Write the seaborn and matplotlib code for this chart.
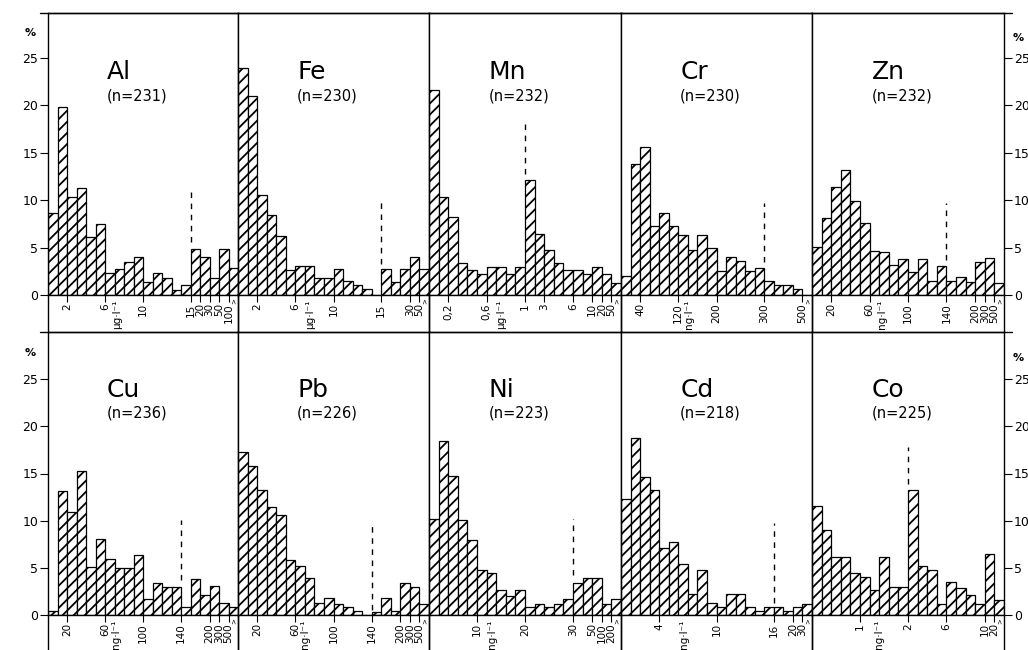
import numpy as np
import pandas as pd
import matplotlib
matplotlib.use("Agg")
import matplotlib.pyplot as plt
from matplotlib.lines import Line2D
import seaborn as sns

# ---------------- data ----------------
elements = ["Al", "Fe", "Mn", "Cr", "Zn", "Cu", "Pb", "Ni", "Cd", "Co"]
n_values = [231, 230, 232, 230, 232, 236, 226, 223, 218, 225]
units = ["μg·l⁻¹", "μg·l⁻¹", "μg·l⁻¹", "ng·l⁻¹", "ng·l⁻¹",
         "ng·l⁻¹", "ng·l⁻¹", "ng·l⁻¹", "ng·l⁻¹", "ng·l⁻¹"]

al = [8.6, 19.8, 10.3, 11.3, 6.1, 7.5, 2.3, 2.7, 3.5, 4.0, 1.4, 2.3, 1.8, 0.5, 1.1, 4.9, 4.0, 1.8, 4.9, 2.8]
fe = [23.9, 21.0, 10.5, 8.4, 6.2, 2.6, 3.1, 3.1, 1.8, 1.8, 2.7, 1.5, 1.1, 0.6, 0.0, 2.7, 1.4, 2.7, 4.0, 2.7]
mn = [21.6, 10.3, 8.2, 3.4, 2.6, 2.2, 3.0, 3.0, 2.2, 3.0, 12.1, 6.4, 4.7, 3.4, 2.6, 2.6, 2.2, 3.0, 2.2, 1.3]
cr = [2.0, 13.8, 15.6, 7.3, 8.6, 7.3, 6.3, 4.7, 6.3, 5.0, 2.5, 4.0, 3.6, 2.5, 2.8, 1.5, 1.1, 1.1, 0.6, 0.0]
zn = [5.1, 8.1, 11.4, 13.2, 9.9, 7.6, 4.6, 4.5, 3.2, 3.8, 2.4, 3.8, 1.5, 3.1, 1.5, 1.9, 1.4, 3.5, 3.9, 1.3]
cu = [0.4, 13.1, 10.9, 15.3, 5.1, 8.1, 5.9, 5.0, 5.0, 6.4, 1.7, 3.4, 3.0, 3.0, 0.8, 3.8, 2.1, 3.1, 1.3, 0.8]
pb = [17.3, 15.8, 13.3, 11.5, 10.6, 5.8, 5.2, 3.9, 1.3, 1.8, 1.2, 0.8, 0.4, 0.0, 0.3, 1.8, 0.4, 3.4, 3.0, 1.2]
ni = [10.2, 18.4, 14.7, 10.1, 8.0, 4.8, 4.4, 2.6, 2.0, 2.6, 0.8, 1.2, 0.8, 1.2, 1.7, 3.4, 3.9, 3.9, 1.2, 1.7]
cd = [12.3, 18.8, 14.6, 13.3, 7.1, 7.7, 5.4, 2.2, 4.8, 1.3, 0.8, 2.2, 2.2, 0.8, 0.4, 0.8, 0.8, 0.4, 0.8, 1.2]
co = [11.6, 9.0, 6.2, 6.2, 4.4, 4.0, 2.6, 6.1, 3.0, 3.0, 13.3, 5.2, 4.8, 1.2, 3.5, 2.9, 2.1, 1.2, 6.5, 1.6]
series = [al, fe, mn, cr, zn, cu, pb, ni, cd, co]

# tick labels at bin edges
tick_edges = [
    [2, 6, 10, 15, 16, 17, 18, 19],
    [2, 6, 10, 15, 18, 19],
    [2, 6, 10, 12, 15, 17, 18, 19],
    [2, 6, 10, 15, 19],
    [2, 6, 10, 14, 17, 18, 19],
    [2, 6, 10, 14, 17, 18, 19],
    [2, 6, 10, 14, 17, 18, 19],
    [5, 10, 15, 17, 18, 19],
    [4, 10, 16, 18, 19],
    [5, 10, 14, 18, 19],
]
tick_labels = [
    ["2", "6", "10", "15", "20", "30", "50", "100"],
    ["2", "6", "10", "15", "30", "50"],
    ["0,2", "0,6", "1", "3", "6", "10", "20", "50"],
    ["40", "120", "200", "300", "500"],
    ["20", "60", "100", "140", "200", "300", "500"],
    ["20", "60", "100", "140", "200", "300", "500"],
    ["20", "60", "100", "140", "200", "300", "500"],
    ["10", "20", "30", "50", "100", "200"],
    ["4", "10", "16", "20", "30"],
    ["1", "2", "6", "10", "20"],
]
unit_pos = [7.3, 7.5, 7.5, 7.1, 7.3, 7.2, 7.0, 6.6, 6.6, 7.0]
# dashed marker lines: edge position, y from, y to
dash_x = [15, 15, 10, 15, 14, 14, 14, 15, 16, 10]
dash_y0 = [5.6, 3.3, 12.8, 3.5, 3.7, 3.7, 0.5, 4.2, 1.3, 13.9]
dash_y1 = [11.0, 10.1, 18.0, 9.7, 9.7, 10.1, 10.0, 10.2, 9.8, 17.8]
y_ticks = [0, 5, 10, 15, 20, 25]

# ---------------- layout ----------------
sns.set_style("ticks")
plt.rcParams["font.family"] = ["DejaVu Sans"]
plt.rcParams["hatch.linewidth"] = 1.3

W, H = 1028, 650
fig = plt.figure(figsize=(W / 100, H / 100), dpi=100)
xs = [48, 238, 429, 621, 812, 1004]
rows = [(13, 295, 29.75), (332, 615, 30.0)]

for k, (el, vals) in enumerate(zip(elements, series)):
    r, c = divmod(k, 5)
    top, base, ymax = rows[r]
    x0, x1 = xs[c], xs[c + 1]
    ax = fig.add_axes([x0 / W, 1 - base / H, (x1 - x0) / W, (base - top) / H])
    df = pd.DataFrame({"bin": np.arange(len(vals)) + 0.5, "pct": vals})
    sns.barplot(data=df, x="bin", y="pct", ax=ax, native_scale=True, width=1,
                color="white", saturation=1, edgecolor="black", linewidth=0.9,
                errorbar=None)
    for p in ax.patches:
        p.set_hatch("///")
    ax.set_xlim(0, len(vals))
    ax.set_ylim(0, ymax)
    ax.set_xlabel("")
    ax.set_ylabel("")
    for s in ax.spines.values():
        s.set_visible(True)
        s.set_linewidth(1.0)
        s.set_color("black")
    ax.set_xticks(tick_edges[k])
    ax.set_xticklabels(tick_labels[k], rotation=90, fontsize=7.5, color="black")
    ax.tick_params(axis="x", direction="out", length=5, width=0.8, pad=1,
                   color="black")
    # last arrow mark
    ax.text(len(vals) - 0.45, -0.012, ">", rotation=90, fontsize=5,
            color="black", transform=ax.get_xaxis_transform(),
            ha="center", va="top")
    # unit label
    ax.text(unit_pos[k], -0.015, units[k], rotation=90, fontsize=7.5,
            color="black", transform=ax.get_xaxis_transform(),
            ha="center", va="top")
    # y axis
    if c == 0:
        ax.set_yticks(y_ticks)
        ax.tick_params(axis="y", direction="out", length=6, width=0.8,
                       labelsize=9, pad=1, left=True, right=False,
                       labelleft=True, labelright=False, color="black",
                       labelcolor="black")
        fig.text(30 / W, 1 - (33 if r == 0 else 353) / H, "%", fontsize=8,
                 ha="center", va="center", fontweight="bold", color="black")
    elif c == 4:
        ax.set_yticks(y_ticks)
        ax.tick_params(axis="y", direction="out", length=6, width=0.8,
                       labelsize=9, pad=1, left=False, right=True,
                       labelleft=False, labelright=True, color="black",
                       labelcolor="black")
        fig.text(1018 / W, 1 - (38 if r == 0 else 358) / H, "%", fontsize=8,
                 ha="center", va="center", fontweight="bold", color="black")
    else:
        ax.set_yticks([])
    # dashed reference
    ax.plot([dash_x[k], dash_x[k]], [dash_y0[k], dash_y1[k]], color="black",
            lw=1.0, linestyle=(0, (4, 4)))
    # titles
    ax.text(0.31, 0.79 if r == 0 else 0.795, el, transform=ax.transAxes,
            fontsize=18, ha="left", va="center", color="black")
    ax.text(0.31, 0.705 if r == 0 else 0.715, f"(n={n_values[k]})",
            transform=ax.transAxes, fontsize=10.5, ha="left", va="center",
            color="black")
    # separators extending through tick-label area
    ext = (37 / (base - top)) if r == 0 else (35 / (base - top))
    for xx in (0, 1):
        ax.plot([xx, xx], [-ext, 0], transform=ax.transAxes, color="black",
                lw=1.0, clip_on=False)

# horizontal frame lines
for yy in (13, 332):
    fig.add_artist(Line2D([40 / W, 1012 / W], [1 - yy / H, 1 - yy / H],
                          color="black", lw=1.0))

fig.savefig("out.png", dpi=100)
